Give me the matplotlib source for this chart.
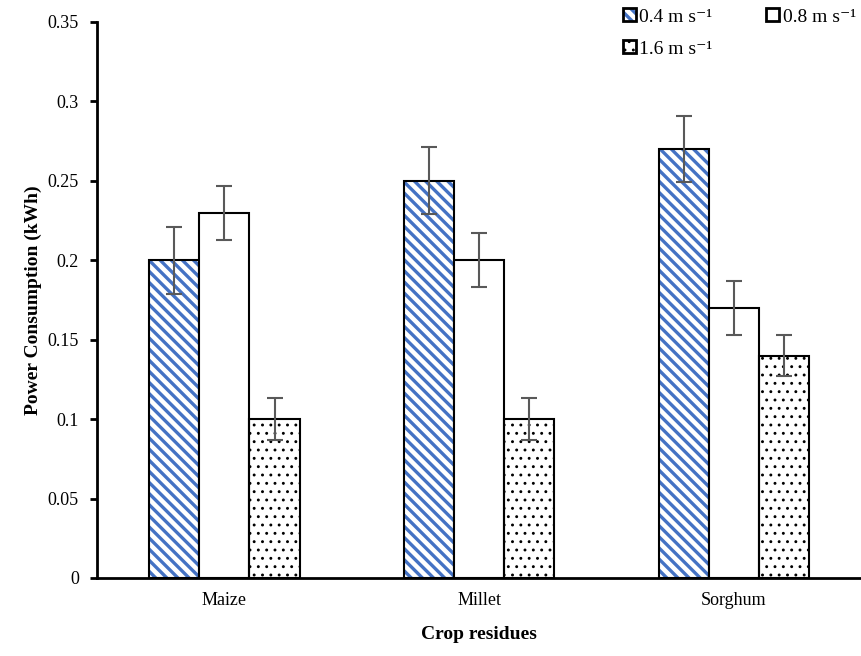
import matplotlib
matplotlib.use("Agg")
import matplotlib.pyplot as plt
import numpy as np
from matplotlib.patches import Patch, Rectangle
from matplotlib.legend_handler import HandlerPatch

plt.rcParams['font.family'] = ['Liberation Serif', 'DejaVu Serif']

categories = ["Maize", "Millet", "Sorghum"]
series_labels = ["0.4 m s\u207b\u00b9", "0.8 m s\u207b\u00b9", "1.6 m s\u207b\u00b9"]
v04 = [0.20, 0.25, 0.27]
v08 = [0.23, 0.20, 0.17]
v16 = [0.10, 0.10, 0.14]
e04 = [0.021, 0.021, 0.021]
e08 = [0.017, 0.017, 0.017]
e16 = [0.013, 0.013, 0.013]
yticks = [0, 0.05, 0.1, 0.15, 0.2, 0.25, 0.3, 0.35]
ytick_labels = ["0", "0.05", "0.1", "0.15", "0.2", "0.25", "0.3", "0.35"]

fig = plt.figure(figsize=(8.62, 6.56), dpi=100)
ax = fig.add_axes([97/862, 1-578/656, 1-97/862-0.001, (578-22)/656])

x = np.arange(len(categories))
w = 0.197
blue = "#4472C4"
vals = [v04, v08, v16]
errs = [e04, e08, e16]
offsets = [-w, 0, w]
hatches = ["\\\\\\", None, ".."]
hatch_colors = [blue, "black", "black"]
hatch_lws = [2.4, 1.0, 0.9]


def set_hlw(p, lw):
    if hasattr(p, "set_hatch_linewidth"):
        p.set_hatch_linewidth(lw)


for i in range(3):
    plt.rcParams['hatch.linewidth'] = hatch_lws[i]
    if hatches[i]:
        bars = ax.bar(x + offsets[i], vals[i], width=w, facecolor="white",
                      edgecolor=hatch_colors[i], hatch=hatches[i], linewidth=0,
                      zorder=2)
        for b in bars:
            set_hlw(b, hatch_lws[i])
    ax.bar(x + offsets[i], vals[i], width=w, fill=(hatches[i] is None),
           facecolor="white", edgecolor="black", linewidth=1.5, zorder=2.1)
    ax.errorbar(x + offsets[i], vals[i], yerr=errs[i], fmt="none",
                ecolor="#595959", elinewidth=1.5, capsize=6, capthick=1.5, zorder=3)

ax.set_xlim(-0.5, 2.5)
ax.set_ylim(0, 0.35)
ax.set_yticks(yticks)
ax.set_yticklabels(ytick_labels, fontsize=13)
ax.set_xticks(x)
ax.set_xticklabels(categories, fontsize=13)
ax.tick_params(axis="x", length=0, pad=10)
ax.tick_params(axis="y", length=5, width=2, direction="out", pad=8)
for s in ["top", "right"]:
    ax.spines[s].set_visible(False)
ax.spines["left"].set_linewidth(2)
ax.spines["bottom"].set_linewidth(2)
ax.set_ylabel("Power Consumption (kWh)", fontsize=14, fontweight="bold")
ax.set_xlabel("Crop residues", fontsize=14, fontweight="bold", labelpad=12)

h04 = Patch(facecolor="white", edgecolor=blue, hatch="\\\\\\", linewidth=0)
h08 = Patch(facecolor="white", edgecolor="black", linewidth=2)
h16 = Patch(facecolor="white", edgecolor="black", hatch="..", linewidth=2)


class HatchBoxHandler(HandlerPatch):
    def __init__(self, hlw, **kw):
        super().__init__(**kw)
        self.hlw = hlw

    def create_artists(self, legend, orig_handle, xdescent, ydescent,
                       width, height, fontsize, trans):
        plt.rcParams['hatch.linewidth'] = self.hlw
        arts = []
        if orig_handle.get_hatch():
            r1 = Rectangle((-xdescent, -ydescent), width, height,
                           facecolor="white",
                           edgecolor=orig_handle.get_edgecolor(),
                           hatch=orig_handle.get_hatch(), linewidth=0,
                           transform=trans)
            set_hlw(r1, self.hlw)
            arts.append(r1)
        r2 = Rectangle((-xdescent, -ydescent), width, height,
                       fill=not orig_handle.get_hatch(), facecolor="white",
                       edgecolor="black", linewidth=2, transform=trans)
        arts.append(r2)
        return arts


handles = [h04, h16, h08]
labels = [series_labels[0], series_labels[2], series_labels[1]]
leg = ax.legend(handles, labels, ncol=2, loc="upper right",
                bbox_to_anchor=(1.016, 1.056), frameon=False, fontsize=14,
                handlelength=0.65, handleheight=0.65, handletextpad=0.2,
                columnspacing=2.75, labelspacing=0.75,
                handler_map={h04: HatchBoxHandler(2.4),
                             h16: HatchBoxHandler(0.9),
                             h08: HatchBoxHandler(1.0)})
fig.savefig("out.png", dpi=100)
